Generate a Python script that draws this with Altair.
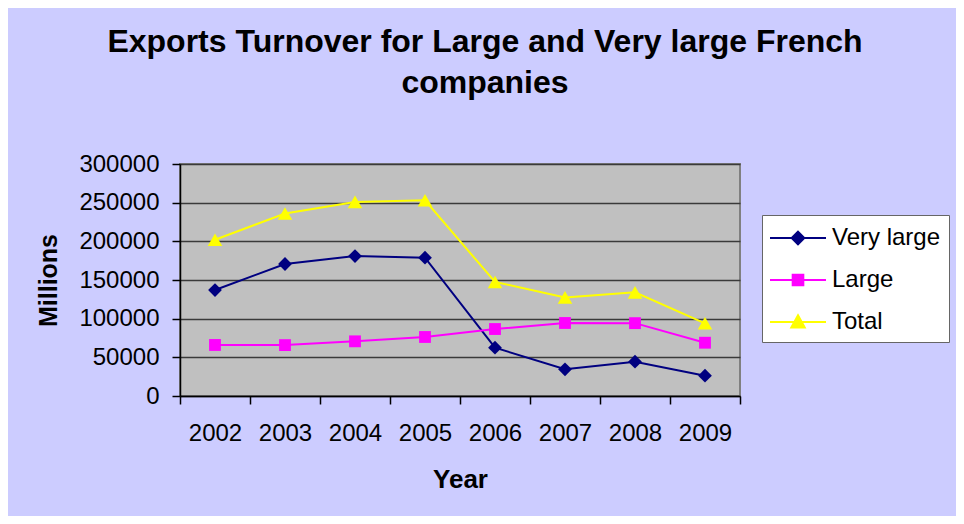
import altair as alt
import pandas as pd

years = ["2002", "2003", "2004", "2005", "2006", "2007", "2008", "2009"]
series_names = ["Very large", "Large", "Total"]
very_large = [137000, 170700, 181000, 178800, 62500, 34500, 44400, 26300]
large = [66000, 65800, 70700, 76300, 86600, 94400, 94200, 68900]
total = [202000, 236000, 251000, 253000, 147500, 127500, 134000, 94000]

colors = ["#000080", "#FF00FF", "#FFFF00"]
plot_shapes = ["diamond", "square", "triangle-up"]
plot_sizes = [190, 140, 210]
legend_paths = [
    "M-2,0H2M0,-0.45L0.45,0L0,0.45L-0.45,0Z",
    "M-2,0H2M-0.38,-0.38H0.38V0.38H-0.38Z",
    "M-2,0H2M0,-0.48L0.48,0.4L-0.48,0.4Z",
]

rows = []
for name, vals in zip(series_names, [very_large, large, total]):
    for yr, v in zip(years, vals):
        rows.append({"year": yr, "value": v, "series": name})
df = pd.DataFrame(rows)

FONT = "Liberation Sans"

x_enc = alt.X(
    "year:O",
    bandPosition=0.5,
    scale=alt.Scale(type="band", domain=years, paddingInner=0, paddingOuter=0),
    axis=alt.Axis(
        title="Year", tickBand="extent", labelAngle=0, labelFontSize=24,
        labelPadding=17, tickSize=8, titleFontSize=26, titleFontWeight="bold",
        titleY=70, titleBaseline="top", titleAlign="center",
    ),
)
y_enc = alt.Y(
    "value:Q",
    scale=alt.Scale(domain=[0, 300000], nice=False),
    axis=alt.Axis(
        title="Millions", values=[0, 50000, 100000, 150000, 200000, 250000, 300000],
        format="d", labelFontSize=24, labelPadding=13, tickSize=8,
        grid=True, gridColor="#3a3a3a", gridWidth=1.5,
        titleFontSize=25, titleFontWeight="bold", titleAngle=-90,
        titleX=-124, titleY=116, titleBaseline="alphabetic", titleAlign="center",
    ),
)

stroke_scale = alt.Scale(domain=series_names, range=colors)

layers = []
for name, shp, sz in zip(series_names, plot_shapes, plot_sizes):
    base = alt.Chart(df).transform_filter(alt.datum.series == name)
    layers.append(
        base.mark_line(strokeWidth=2).encode(
            x=x_enc, y=y_enc,
            stroke=alt.Stroke("series:N", scale=stroke_scale, legend=None),
        )
    )
    layers.append(
        base.mark_point(filled=True, shape=shp, size=sz, opacity=1).encode(
            x=x_enc, y=y_enc,
            fill=alt.Fill("series:N", scale=stroke_scale, legend=None),
        )
    )

legend_layer = (
    alt.Chart(df)
    .transform_filter("false")
    .mark_point(filled=True, size=784, opacity=1, strokeWidth=2)
    .encode(
        x=x_enc, y=y_enc,
        shape=alt.Shape("series:N", scale=alt.Scale(domain=series_names, range=legend_paths),
                        legend=alt.Legend(title=None)),
        fill=alt.Fill("series:N", scale=stroke_scale, legend=alt.Legend(title=None)),
        stroke=alt.Stroke("series:N", scale=stroke_scale, legend=alt.Legend(title=None)),
    )
)

chart = (
    alt.layer(legend_layer, *layers)
    .properties(
        width=560,
        height=232,
        padding={"left": 172, "top": 156, "right": 216, "bottom": 120},
        autosize=alt.AutoSizeParams(type="none"),
        background="#CCCCFF",
        title=alt.TitleParams(
            text=["Exports Turnover for Large and Very large French", "companies"],
            fontSize=32, fontWeight="bold", font=FONT, color="black",
            anchor="middle", frame="group", dx=25, dy=-48, lineHeight=41,
        ),
    )
    .configure_view(fill="#C0C0C0", stroke="#808080", strokeWidth=2)
    .configure_axis(
        labelFont=FONT, titleFont=FONT, labelColor="black", titleColor="black",
        domainColor="black", domainWidth=1.5, tickColor="black", tickWidth=1.5,
    )
    .configure_legend(
        orient="none", legendX=582, legendY=51, fillColor="white",
        strokeColor="#666666", padding=8, labelFont=FONT, labelFontSize=24,
        labelColor="black", symbolSize=784, symbolStrokeWidth=2,
        rowPadding=15, labelOffset=19, symbolOffset=13,
    )
)

chart.save("out.html", embed_options={"renderer": "svg", "actions": False})
